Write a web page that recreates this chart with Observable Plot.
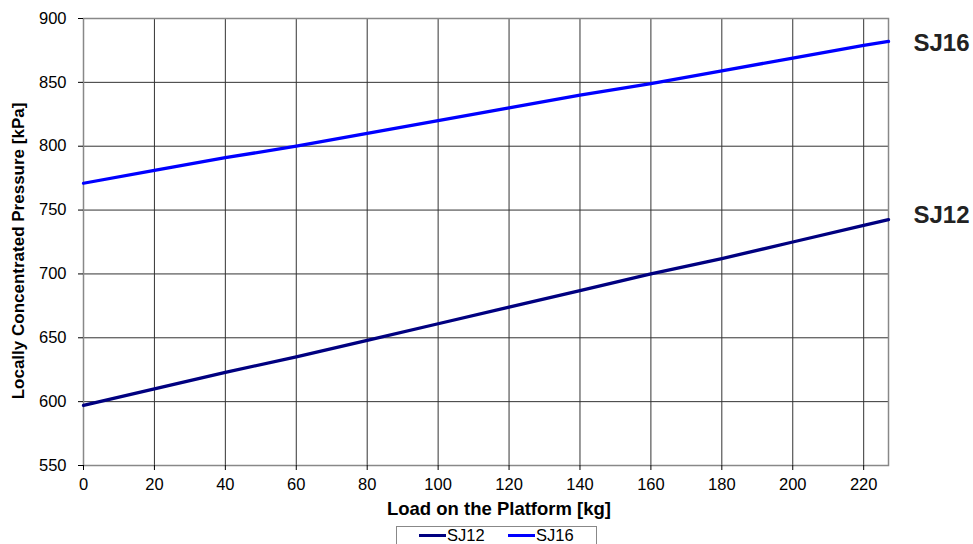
<!DOCTYPE html>
<html>
<head>
<meta charset="utf-8">
<script src="https://cdn.jsdelivr.net/npm/d3@7"></script>
<script src="https://cdn.jsdelivr.net/npm/@observablehq/plot@0.6"></script>
<style>
  body { margin: 0; background: #fff; font-family: "Liberation Sans", Arial, sans-serif; }
  #wrap { position: relative; width: 973px; height: 544px; overflow: hidden; }
  #chart svg { font-family: "Liberation Sans", Arial, sans-serif; }
  #legend { position: absolute; left: 396px; top: 526px; width: 201px; height: 18px; border: 1px solid #888; border-bottom: none; box-sizing: border-box; color: #000; font-size: 16.5px; }
  #legend .item { position: absolute; top: 0px; height: 17px; line-height: 17px; display: flex; align-items: center; white-space: nowrap; }
  #legend .sw { display: inline-block; width: 27px; height: 3px; margin-right: 1px; }
</style>
</head>
<body>
<div id="wrap">
  <div id="chart"></div>
  <div id="legend"></div>
</div>
<script>
const loads = [0, 20, 40, 60, 80, 100, 120, 140, 160, 180, 200, 220, 227];
const sj12 = [597, 610, 623, 635, 648, 661, 674, 687, 700, 712, 725, 738, 742.5];
const sj16 = [771, 781, 791, 800, 810, 820, 830, 840, 849, 859, 869, 879, 882];
const seriesNames = ["SJ12", "SJ16"];
const seriesColors = ["#000080", "#0000ff"];
const xTicks = [0, 20, 40, 60, 80, 100, 120, 140, 160, 180, 200, 220];
const yTicks = [550, 600, 650, 700, 750, 800, 850, 900];
const xTitle = "Load on the Platform [kg]";
const yTitle = "Locally Concentrated Pressure [kPa]";

const rows = [];
loads.forEach((x, i) => {
  rows.push({ load: x, p: sj12[i], s: "SJ12" });
  rows.push({ load: x, p: sj16[i], s: "SJ16" });
});
const last = loads.length - 1;
const end12 = [{ s: "SJ12", load: loads[last], p: sj12[last] }];
const end16 = [{ s: "SJ16", load: loads[last], p: sj16[last] }];

const plot = Plot.plot({
  width: 973,
  height: 522,
  marginLeft: 83,
  marginRight: 85,
  marginTop: 18,
  marginBottom: 57,
  style: { fontSize: "16.5px", color: "#000", background: "#fff" },
  x: { domain: [0, 227] },
  y: { domain: [550, 900] },
  color: { domain: seriesNames, range: seriesColors },
  marks: [
    Plot.gridX(xTicks, { stroke: "#333", strokeOpacity: 1, strokeWidth: 1 }),
    Plot.gridY(yTicks, { stroke: "#333", strokeOpacity: 1, strokeWidth: 1 }),
    Plot.frame({ stroke: "#888", strokeWidth: 1.5 }),
    Plot.axisX({ ticks: xTicks, tickSize: 5, tickPadding: 8, label: null, fontSize: 16.5 }),
    Plot.axisY({ ticks: yTicks, tickSize: 5, tickPadding: 12, label: null, fontSize: 16.5 }),
    Plot.text([xTitle], { frameAnchor: "bottom", text: d => d, textAnchor: "middle", lineAnchor: "middle", dx: 13, dy: 44, fontWeight: "bold", fontSize: 18.5, fill: "#000" }),
    Plot.text([yTitle], { frameAnchor: "left", text: d => d, textAnchor: "middle", lineAnchor: "middle", rotate: -90, dx: -65, dy: 9, fontWeight: "bold", fontSize: 17, fill: "#000" }),
    Plot.line(rows, { x: "load", y: "p", z: "s", stroke: "s", strokeWidth: 3.3 }),
    Plot.text(end16, { x: "load", y: "p", text: "s", dx: 25, dy: 1.5, textAnchor: "start", fontWeight: "bold", fontSize: 24, fill: "#222" }),
    Plot.text(end12, { x: "load", y: "p", text: "s", dx: 25, dy: -4, textAnchor: "start", fontWeight: "bold", fontSize: 24, fill: "#222" })
  ]
});
document.getElementById("chart").appendChild(plot);

const leg = document.getElementById("legend");
const itemLeft = [22, 111];
seriesNames.forEach((s, i) => {
  const item = document.createElement("span");
  item.className = "item";
  item.style.left = itemLeft[i] + "px";
  const sw = document.createElement("span");
  sw.className = "sw";
  sw.style.background = seriesColors[i];
  item.appendChild(sw);
  item.appendChild(document.createTextNode(s));
  leg.appendChild(item);
});
</script>
</body>
</html>
